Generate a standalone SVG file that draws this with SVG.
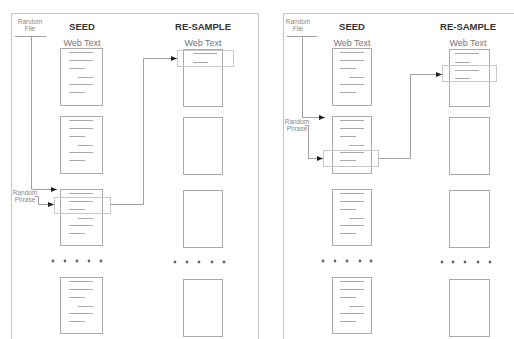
<svg xmlns="http://www.w3.org/2000/svg" xmlns:xlink="http://www.w3.org/1999/xlink" width="514" height="339" viewBox="0 0 514 339">
<style>
.frame{fill:none;stroke:#c4c4c4;stroke-width:1}
.doc{fill:#fff;stroke:#aaa;stroke-width:1}
.ln{stroke:#aaa;stroke-width:1}
.hl{fill:none;stroke:#c8c8c8;stroke-width:1}
.con{fill:none;stroke:#888;stroke-width:0.8}
.h{font-family:"Liberation Sans",Arial,sans-serif;font-weight:bold;font-size:9.5px;fill:#333;text-anchor:middle}
.wt{font-family:"Liberation Sans",Arial,sans-serif;font-size:9px;fill:#777;text-anchor:middle}
.sm{font-family:"Liberation Sans",Arial,sans-serif;font-size:6.5px;fill:#888;text-anchor:middle}
.dot{fill:#666}
</style>
<defs>
<marker id="ar" viewBox="0 0 10 10" refX="10" refY="5" markerWidth="6" markerHeight="6" markerUnits="userSpaceOnUse" orient="auto">
<path d="M0,1 L10,5 L0,9 z" fill="#222"/>
</marker>
<g id="lines">
<line class="ln" x1="9" y1="4.5" x2="33" y2="4.5"/>
<line class="ln" x1="9" y1="12.5" x2="33" y2="12.5"/>
<line class="ln" x1="9" y1="20.5" x2="25" y2="20.5"/>
<line class="ln" x1="18" y1="29.5" x2="33" y2="29.5"/>
<line class="ln" x1="9" y1="36.5" x2="33" y2="36.5"/>
<line class="ln" x1="9" y1="44.5" x2="25" y2="44.5"/>
</g>
</defs>
<rect width="514" height="339" fill="#fff"/>
<path class="frame" d="M11.5,339 V13.5 H258.5 V339"/>
<path class="frame" d="M283.5,339 V13.5 H514"/>

<g id="left-panel">
<g id="l-random-file"><text class="sm" x="30" y="24">Random</text><text class="sm" x="30" y="30.5">File</text><line x1="15" y1="36.5" x2="46" y2="36.5" stroke="#888" stroke-width="0.8"/></g>
<g id="l-seed-title"><text class="h" x="82" y="30">SEED</text><text class="wt" x="82" y="46">Web Text</text></g>
<g id="l-res-title"><text class="h" x="203" y="30">RE-SAMPLE</text><text class="wt" x="203" y="46">Web Text</text></g>
<g id="l-seed1"><rect class="doc" x="60.5" y="48.5" width="42" height="57"/><use xlink:href="#lines" x="60" y="48"/></g>
<g id="l-seed2"><rect class="doc" x="60.5" y="116.5" width="42" height="57"/><use xlink:href="#lines" x="60" y="116"/></g>
<g id="l-seed3"><rect class="doc" x="60.5" y="189.5" width="42" height="56"/><use xlink:href="#lines" x="60" y="189"/></g>
<g id="l-seed4"><rect class="doc" x="60.5" y="277.5" width="42" height="56"/><use xlink:href="#lines" x="60" y="277"/></g>
<g id="l-res1"><rect class="doc" x="183.5" y="49.5" width="39" height="57"/><line class="ln" x1="193" y1="53.5" x2="217" y2="53.5"/><line class="ln" x1="193" y1="62.5" x2="208" y2="62.5"/></g>
<g id="l-res2"><rect class="doc" x="183.5" y="117.5" width="39" height="57"/></g>
<g id="l-res3"><rect class="doc" x="183.5" y="190.5" width="39" height="57"/></g>
<g id="l-res4"><rect class="doc" x="183.5" y="279.5" width="39" height="57"/></g>
<g id="l-random-phrase"><text class="sm" x="25" y="195">Random</text><text class="sm" x="25" y="201.5">Phrase</text></g>
<g id="l-phrase-box"><rect class="hl" x="54.5" y="197.5" width="56" height="16"/></g>
<g id="l-res-box"><rect class="hl" x="177.5" y="50.5" width="56" height="16"/></g>
<g id="l-dots-seed"><circle class="dot" cx="53" cy="261" r="1.4"/><circle class="dot" cx="65" cy="261" r="1.4"/><circle class="dot" cx="77" cy="261" r="1.4"/><circle class="dot" cx="89" cy="261" r="1.4"/><circle class="dot" cx="101" cy="261" r="1.4"/></g>
<g id="l-dots-res"><circle class="dot" cx="175" cy="262" r="1.4"/><circle class="dot" cx="187" cy="262" r="1.4"/><circle class="dot" cx="199" cy="262" r="1.4"/><circle class="dot" cx="212" cy="262" r="1.4"/><circle class="dot" cx="224" cy="262" r="1.4"/></g>
</g>

<g id="right-panel">
<g id="r-random-file"><text class="sm" x="298" y="24">Random</text><text class="sm" x="298" y="30.5">File</text><line x1="287" y1="36.5" x2="317" y2="36.5" stroke="#888" stroke-width="0.8"/></g>
<g id="r-seed-title"><text class="h" x="352" y="30">SEED</text><text class="wt" x="352" y="46">Web Text</text></g>
<g id="r-res-title"><text class="h" x="468" y="30">RE-SAMPLE</text><text class="wt" x="468" y="46">Web Text</text></g>
<g id="r-seed1"><rect class="doc" x="332.5" y="48.5" width="39" height="57"/><use xlink:href="#lines" x="331" y="48"/></g>
<g id="r-seed2"><rect class="doc" x="332.5" y="116.5" width="39" height="57"/><use xlink:href="#lines" x="331" y="116"/></g>
<g id="r-seed3"><rect class="doc" x="332.5" y="189.5" width="39" height="56"/><use xlink:href="#lines" x="331" y="189"/></g>
<g id="r-seed4"><rect class="doc" x="332.5" y="277.5" width="39" height="56"/><use xlink:href="#lines" x="331" y="277"/></g>
<g id="r-res1"><rect class="doc" x="449.5" y="49.5" width="40" height="57"/><line class="ln" x1="455" y1="53.5" x2="479" y2="53.5"/><line class="ln" x1="455" y1="62.5" x2="470" y2="62.5"/><line class="ln" x1="455" y1="70.5" x2="479" y2="70.5"/><line class="ln" x1="455" y1="78.5" x2="470" y2="78.5"/></g>
<g id="r-res2"><rect class="doc" x="449.5" y="117.5" width="40" height="57"/></g>
<g id="r-res3"><rect class="doc" x="449.5" y="190.5" width="40" height="57"/></g>
<g id="r-res4"><rect class="doc" x="449.5" y="279.5" width="40" height="57"/></g>
<g id="r-random-phrase"><text class="sm" x="297" y="124">Random</text><text class="sm" x="297" y="130.5">Phrase</text></g>
<g id="r-phrase-box"><rect class="hl" x="323.5" y="150.5" width="55" height="16"/></g>
<g id="r-res-box"><rect class="hl" x="442.5" y="65.5" width="54" height="16"/></g>
<g id="r-dots-seed"><circle class="dot" cx="323" cy="261" r="1.4"/><circle class="dot" cx="335" cy="261" r="1.4"/><circle class="dot" cx="347" cy="261" r="1.4"/><circle class="dot" cx="360" cy="261" r="1.4"/><circle class="dot" cx="371" cy="261" r="1.4"/></g>
<g id="r-dots-res"><circle class="dot" cx="442" cy="262" r="1.4"/><circle class="dot" cx="453" cy="262" r="1.4"/><circle class="dot" cx="465" cy="262" r="1.4"/><circle class="dot" cx="478" cy="262" r="1.4"/><circle class="dot" cx="490" cy="262" r="1.4"/></g>
</g>

<g id="connectors">
<path class="con" d="M31.5,36.5 V189.5 H57" marker-end="url(#ar)"/>
<path class="con" d="M35,196.5 H38.5 V204.5 H54" marker-end="url(#ar)"/>
<path class="con" d="M110.5,204.5 H143.5 V58.5 H177" marker-end="url(#ar)"/>
<path class="con" d="M302.5,36.5 V117.5 H325" marker-end="url(#ar)"/>
<path class="con" d="M305,125.5 H308.5 V158.5 H323" marker-end="url(#ar)"/>
<path class="con" d="M378.5,158.5 H410.5 V74.5 H442" marker-end="url(#ar)"/>
</g>
</svg>
